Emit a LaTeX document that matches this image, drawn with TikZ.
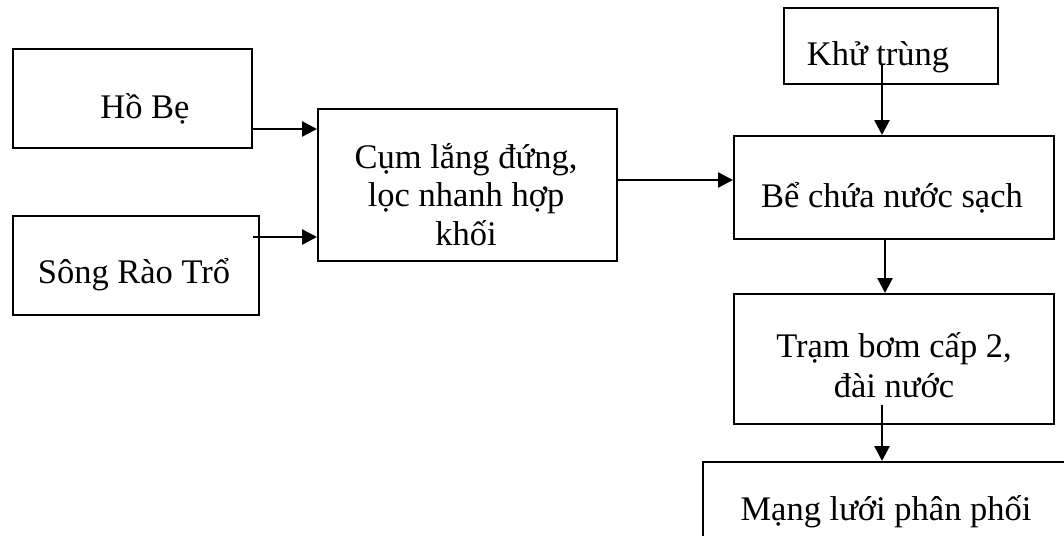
\documentclass[tikz,border=0pt]{standalone}
\usepackage{fontspec}
\setmainfont{Liberation Serif}
\usetikzlibrary{arrows.meta}
\begin{document}
\begin{tikzpicture}[x=1pt,y=-1pt,
  box/.style={draw,line width=2pt,inner sep=0pt,anchor=north west},
  lbl/.style={font=\fontsize{34.5}{39}\selectfont,anchor=base,inner sep=0pt},
  arr/.style={line width=2.6pt,-{Triangle[length=15pt,width=15pt]}}]
\clip (0,0) rectangle (1064,535);
\fill[white] (0,0) rectangle (1064,535);
% boxes
\node[box,minimum width=239pt,minimum height=99pt] (hobe) at (12,48) {};
\node[box,minimum width=246pt,minimum height=99pt] (song) at (12,215) {};
\node[box,minimum width=299pt,minimum height=152pt] (cum) at (317,108) {};
\node[box,minimum width=214pt,minimum height=76pt] (khu) at (783,7) {};
\node[box,minimum width=320pt,minimum height=103pt] (be) at (733,135) {};
\node[box,minimum width=320pt,minimum height=130pt] (tram) at (733,293) {};
\node[box,minimum width=420pt,minimum height=150pt] (mang) at (702,461) {};
% labels
\node[lbl] (thobe) at (145,118) {Hồ Bẹ};
\node[lbl] (tsong) at (134,283) {Sông Rào Trổ};
\node[lbl] (tcum1) at (466,168) {Cụm lắng đứng,};
\node[lbl] (tcum2) at (466,206) {lọc nhanh hợp};
\node[lbl] (tcum3) at (466,245) {khối};
\node[lbl] (tkhu) at (878,65) {Khử trùng};
\node[lbl] (tbe) at (892,207) {Bể chứa nước sạch};
\node[lbl] (ttram1) at (894,357) {Trạm bơm cấp 2,};
\node[lbl] (ttram2) at (894,397) {đài nước};
\node[lbl] (tmang) at (886,520) {Mạng lưới phân phối};
% connectors
\draw[arr] ([yshift=-30.5pt]hobe.east) coordinate (a1) -- (a1 -| cum.west);
\draw[arr] ([xshift=-7pt,yshift=28.5pt]song.east) coordinate (a2) -- (a2 -| cum.west);
\draw[arr] ([yshift=5pt]cum.east) coordinate (a3) -- (a3 -| be.west);
\draw[arr] ([xshift=-9pt,yshift=20pt]khu.south) coordinate (a4) -- (a4 |- be.north);
\draw[arr] ([xshift=-9pt]be.south) coordinate (a5) -- (a5 |- tram.north);
\draw[arr] ([xshift=-12pt,yshift=20pt]tram.south) coordinate (a6) -- (a6 |- mang.north);
\end{tikzpicture}
\end{document}
